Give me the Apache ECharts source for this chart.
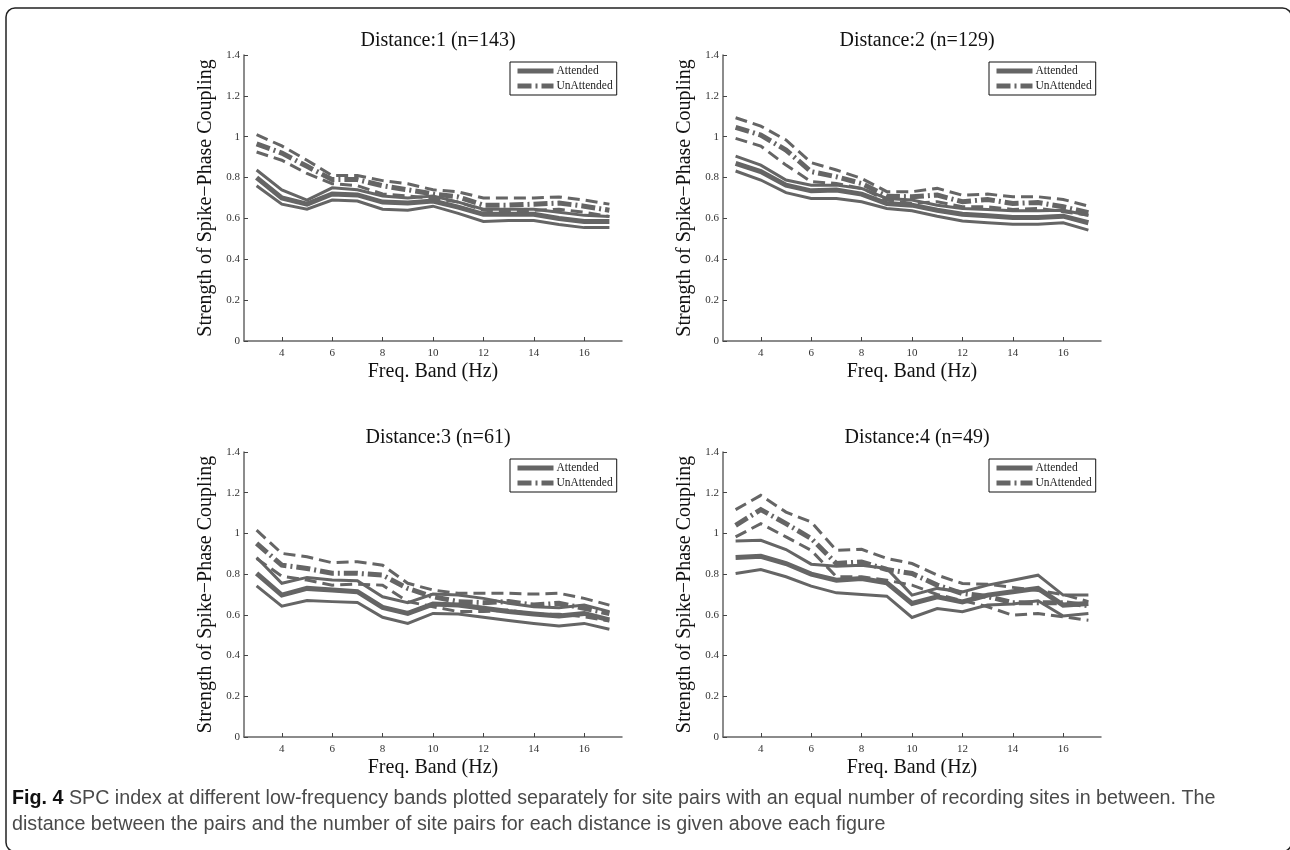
<!DOCTYPE html>
<html><head><meta charset="utf-8">
<script src="https://cdn.jsdelivr.net/npm/echarts@6/dist/echarts.min.js"></script>
<style>html,body{margin:0;padding:0;background:#fff}#c{width:1290px;height:850px}</style>
</head><body><div id="c"></div>
<script>
const freqs = [3,4,5,6,7,8,9,10,11,12,13,14,15,16,17];
const xTicks = [4,6,8,10,12,14,16];
const titles = ['Distance:1 (n=143)','Distance:2 (n=129)','Distance:3 (n=61)','Distance:4 (n=49)'];
const legendNames = ['Attended','UnAttended'];

const d1AttUp   = [0.837,0.74,0.69,0.75,0.74,0.71,0.70,0.71,0.68,0.645,0.645,0.645,0.63,0.615,0.61];
const d1AttMean = [0.80,0.70,0.67,0.72,0.715,0.68,0.675,0.685,0.655,0.62,0.62,0.62,0.60,0.585,0.585];
const d1AttLo   = [0.76,0.67,0.645,0.69,0.685,0.645,0.64,0.66,0.625,0.585,0.59,0.59,0.57,0.555,0.555];
const d1UnUp    = [1.01,0.955,0.885,0.81,0.81,0.785,0.77,0.74,0.73,0.70,0.70,0.70,0.705,0.69,0.67];
const d1UnMean  = [0.965,0.92,0.855,0.79,0.79,0.76,0.74,0.72,0.705,0.665,0.665,0.67,0.675,0.66,0.64];
const d1UnLo    = [0.925,0.885,0.82,0.77,0.76,0.72,0.71,0.70,0.68,0.64,0.635,0.64,0.645,0.63,0.61];

const d2AttUp   = [0.905,0.861,0.788,0.763,0.763,0.747,0.698,0.69,0.665,0.649,0.644,0.638,0.638,0.64,0.616];
const d2AttMean = [0.869,0.829,0.763,0.735,0.739,0.719,0.673,0.665,0.64,0.621,0.613,0.605,0.605,0.611,0.579];
const d2AttLo   = [0.832,0.788,0.726,0.698,0.698,0.682,0.649,0.638,0.611,0.587,0.579,0.571,0.571,0.579,0.543];
const d2UnUp    = [1.093,1.052,0.984,0.873,0.837,0.796,0.731,0.731,0.747,0.714,0.719,0.706,0.706,0.693,0.66];
const d2UnMean  = [1.046,1.008,0.935,0.829,0.804,0.771,0.709,0.706,0.714,0.682,0.693,0.673,0.678,0.657,0.628];
const d2UnLo    = [0.992,0.954,0.861,0.78,0.771,0.747,0.69,0.673,0.682,0.657,0.657,0.644,0.649,0.633,0.616];

const d3AttUp   = [0.882,0.755,0.784,0.771,0.768,0.689,0.66,0.702,0.697,0.681,0.657,0.64,0.635,0.648,0.616];
const d3AttMean = [0.804,0.697,0.73,0.722,0.714,0.637,0.607,0.653,0.648,0.632,0.616,0.604,0.594,0.607,0.575];
const d3AttLo   = [0.742,0.643,0.67,0.665,0.661,0.588,0.558,0.607,0.604,0.588,0.572,0.558,0.545,0.558,0.529];
const d3UnUp    = [1.016,0.902,0.885,0.856,0.861,0.844,0.755,0.722,0.706,0.706,0.706,0.702,0.706,0.681,0.648];
const d3UnMean  = [0.951,0.844,0.828,0.804,0.804,0.795,0.73,0.689,0.665,0.66,0.665,0.648,0.657,0.632,0.607];
const d3UnLo    = [0.877,0.79,0.771,0.746,0.751,0.746,0.665,0.64,0.616,0.616,0.624,0.603,0.603,0.591,0.57];

const d4AttUp   = [0.963,0.966,0.921,0.849,0.839,0.844,0.828,0.697,0.73,0.713,0.746,0.77,0.795,0.697,0.697];
const d4AttMean = [0.882,0.888,0.852,0.80,0.77,0.779,0.757,0.656,0.689,0.664,0.697,0.713,0.73,0.648,0.656];
const d4AttLo   = [0.803,0.823,0.787,0.741,0.708,0.70,0.692,0.587,0.631,0.615,0.648,0.653,0.669,0.594,0.607];
const d4UnUp    = [1.117,1.187,1.105,1.056,0.917,0.922,0.877,0.852,0.795,0.754,0.75,0.735,0.72,0.70,0.665];
const d4UnMean  = [1.04,1.117,1.048,0.975,0.852,0.86,0.823,0.803,0.746,0.705,0.69,0.66,0.66,0.66,0.645];
const d4UnLo    = [0.983,1.048,0.983,0.917,0.787,0.787,0.77,0.746,0.70,0.67,0.64,0.598,0.607,0.59,0.574];

const panels = [
  [d1AttUp,d1AttMean,d1AttLo,d1UnUp,d1UnMean,d1UnLo],
  [d2AttUp,d2AttMean,d2AttLo,d2UnUp,d2UnMean,d2UnLo],
  [d3AttUp,d3AttMean,d3AttLo,d3UnUp,d3UnMean,d3UnLo],
  [d4AttUp,d4AttMean,d4AttLo,d4UnUp,d4UnMean,d4UnLo]
];

const COL = '#656565';
const SERIF = '"Liberation Serif","DejaVu Serif",serif';
const SANS = '"Liberation Sans","DejaVu Sans",sans-serif';
const gridPos = [
  {left:244, top:55, width:378, height:286},
  {left:723, top:55, width:378, height:286},
  {left:244, top:452, width:378, height:285},
  {left:723, top:452, width:378, height:285}
];

const pair = a => freqs.map((f,i)=>[f,a[i]]);
const grids=[], xAxes=[], yAxes=[], series=[], titleArr=[], legends=[];
panels.forEach((p,k)=>{
  const g = gridPos[k];
  grids.push(Object.assign({containLabel:false}, g));
  xAxes.push({type:'value', gridIndex:k, min:2.5, max:17.5,
    name:'Freq. Band (Hz)', nameLocation:'middle', nameGap:21,
    nameTextStyle:{fontFamily:SERIF, fontSize:20, color:'#111', verticalAlign:'top'},
    axisLine:{show:true, onZero:false, lineStyle:{color:'#666', width:1.5}},
    axisTick:{show:true, inside:true, length:4, customValues:xTicks, lineStyle:{color:'#444'}},
    axisLabel:{customValues:xTicks, fontFamily:SERIF, fontSize:11, color:'#333', margin:7},
    splitLine:{show:false}});
  yAxes.push({type:'value', gridIndex:k, min:0, max:1.4, interval:0.2,
    name:'Strength of Spike\u2212Phase Coupling', nameLocation:'middle', nameGap:28, nameRotate:90,
    nameTextStyle:{fontFamily:SERIF, fontSize:20, color:'#111'},
    axisLine:{show:true, lineStyle:{color:'#666', width:1.5}},
    axisTick:{show:true, inside:true, length:4, lineStyle:{color:'#444'}},
    axisLabel:{fontFamily:SERIF, fontSize:11, color:'#333', margin:4},
    splitLine:{show:false}});
  titleArr.push({text:titles[k], left:g.left+g.width/2, top:g.top-29, textAlign:'center',
    textStyle:{fontFamily:SERIF, fontSize:20, fontWeight:'normal', color:'#111'}});
  const styles = [
    {name:'Att up '+k, w:3, t:'solid'},
    {name:'Attended', w:5, t:'solid'},
    {name:'Att lo '+k, w:3, t:'solid'},
    {name:'Un up '+k, w:3, t:[12,6]},
    {name:'UnAttended', w:5, t:[14,4,2,4]},
    {name:'Un lo '+k, w:3, t:[12,6]}
  ];
  styles.forEach((s,j)=>{
    series.push({type:'line', name:s.name, xAxisIndex:k, yAxisIndex:k, data:pair(p[j]),
      symbol:'none', showSymbol:false, silent:true, animation:false,
      lineStyle:{color:COL, width:s.w, type:s.t, cap:'butt', join:'miter'},
      itemStyle:{color:COL}});
  });
  legends.push({data:legendNames, orient:'vertical', left:g.left+g.width-112, top:g.top+7,
    itemWidth:36, itemHeight:10, itemGap:3, padding:[3,4,3,5],
    borderColor:'#111', borderWidth:1, backgroundColor:'#fff', selectedMode:false,
    itemStyle:{opacity:0, borderWidth:0},
    lineStyle:{width:5},
    textStyle:{fontFamily:SERIF, fontSize:11.5, color:'#222', padding:[0,0,0,-2]}});
});

const chart = echarts.init(document.getElementById('c'), null, {renderer:'canvas'});
chart.setOption({
  animation:false,
  backgroundColor:'#fff',
  title:titleArr, grid:grids, xAxis:xAxes, yAxis:yAxes, series:series, legend:legends,
  graphic:[
    {type:'rect', shape:{x:6, y:8, width:1285.5, height:843.5, r:9}, silent:true,
      style:{fill:null, stroke:'#222', lineWidth:1.5}},
    {type:'text', left:12, top:789, silent:true,
      style:{text:'{b|Fig. 4} SPC index at different low-frequency bands plotted separately for site pairs with an equal number of recording sites in between. The',
        font:'19.7px ' + SANS, fill:'#4a4a4a',
        rich:{b:{font:'bold 19.7px ' + SANS, fill:'#111'}}}},
    {type:'text', left:12, top:815, silent:true,
      style:{text:'distance between the pairs and the number of site pairs for each distance is given above each figure',
        font:'19.7px ' + SANS, fill:'#4a4a4a'}}
  ]
});
</script></body></html>
